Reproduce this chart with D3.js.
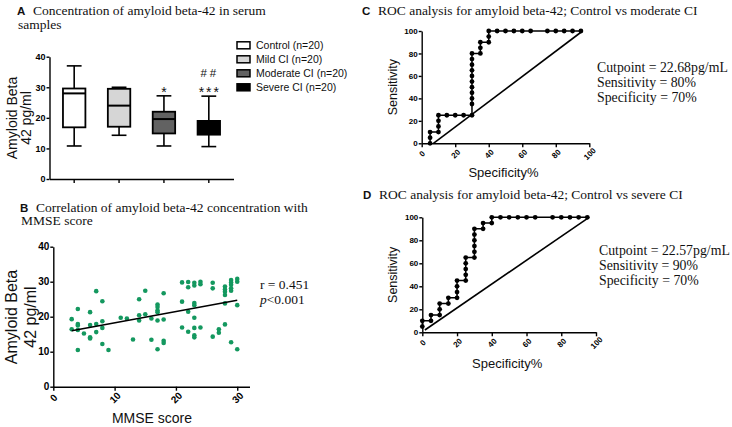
<!DOCTYPE html>
<html>
<head>
<meta charset="utf-8">
<script src="https://cdn.jsdelivr.net/npm/d3@7"></script>
<style>
body { margin: 0; background: #fff; }
svg { display: block; }
.ttl { font-family: "Liberation Serif", "Times New Roman", serif; font-size: 13.5px; fill: #111; }
.let { font-family: "Liberation Sans", Arial, sans-serif; font-size: 11.5px; font-weight: bold; fill: #111; }
.lab { font-family: "Liberation Sans", Arial, sans-serif; fill: #111; }
.stat { font-family: "Liberation Serif", "Times New Roman", serif; fill: #111; }
</style>
</head>
<body>
<div id="container"></div>
<script>
// panel A: box plots
const groups = ['Control (n=20)', 'Mild CI (n=20)', 'Moderate CI (n=20)', 'Severe CI (n=20)'];
const boxFill = ['#ffffff', '#d6d6d6', '#626262', '#000000'];
const whiskerLow = [10.8, 14.3, 10.8, 10.6];
const q1 = [16.9, 17.1, 14.9, 14.5];
const medians = [28.0, 24.0, 19.6, 17.0];
const q3 = [29.6, 29.5, 22.0, 19.0];
const whiskerHigh = [37.0, 30.0, 27.2, 27.1];
const sigLow = ['', '', '*', '***'];
const sigHigh = ['', '', '', '##'];

// panel B: MMSE vs amyloid beta-42
const mmse = [3, 3, 4, 4, 4, 4, 4, 5, 6, 6, 6, 6, 7, 7, 7, 8, 8, 8, 8, 9, 11, 12, 13, 14, 14, 14, 15, 15, 16, 16,
  17, 17, 17, 17, 17, 17, 18, 18, 18, 18, 21, 21, 21, 22, 22, 22, 22, 23, 23, 23, 23, 23, 23, 23, 23,
  24, 24, 24, 26, 26, 26, 27, 27, 28, 28, 28, 28, 28, 28, 29, 29, 29, 29, 29, 29, 30, 30, 30, 30];
const abeta = [19.3, 16.4, 22.2, 17.9, 17.5, 16.2, 10.5, 15.2, 21.3, 17.6, 14.1, 13.8, 27.3, 17.9, 15.6,
  24.4, 18.7, 16.8, 12.2, 10.5, 19.7, 19.5, 13.5, 25.0, 20.4, 18.9, 27.4, 20.7, 19.5, 13.4,
  23.5, 22.8, 21.8, 21.3, 18.9, 10.7, 26.7, 19.2, 13.1, 12.5, 29.8, 24.3, 16.9, 29.9, 28.4, 21.4, 15.7,
  29.7, 28.9, 23.9, 23.3, 19.7, 16.8, 14.7, 14.1, 30.0, 29.3, 16.9, 29.7, 28.1, 14.3, 16.4, 15.4,
  28.6, 27.8, 27.1, 26.2, 23.8, 17.8, 30.5, 29.8, 29.1, 28.1, 27.4, 12.7, 30.8, 30.0, 23.3, 10.7];
const fitX = [3, 30];
const fitY = [16.0, 24.7];

// panels C and D: ROC curves
const specC = [5, 5, 5, 10, 10, 10, 10, 15, 20, 25, 30, 30, 30, 30, 30, 30, 30, 30, 30, 30, 30,
  35, 35, 35, 40, 40, 40, 45, 50, 55, 60, 65, 75, 80, 85, 90, 95];
const sensC = [0, 5, 10, 10, 15, 20, 25, 25, 25, 25, 25, 35, 40, 45, 50, 55, 60, 65, 70, 75, 80,
  80, 85, 90, 90, 95, 100, 100, 100, 100, 100, 100, 100, 100, 100, 100, 100];
const refCx = [7, 96], refCy = [0, 100];

const specD = [0, 0, 5, 5, 10, 10, 10, 15, 15, 20, 20, 20, 20, 25, 25, 25, 25, 25, 30, 30, 30, 30, 30, 30,
  35, 35, 40, 40, 45, 50, 55, 60, 65, 75, 80, 85, 90, 95];
const sensD = [5, 10, 10, 15, 15, 20, 25, 25, 30, 30, 35, 40, 45, 45, 50, 55, 60, 65, 65, 70, 75, 80, 85, 90,
  90, 95, 95, 100, 100, 100, 100, 100, 100, 100, 100, 100, 100, 100];
const refDx = [1.5, 96], refDy = [2, 100];

const svg = d3.select('#container')
  .append('svg')
  .attr('width', 732)
  .attr('height', 427);

function styleAxis(g, size) {
  g.selectAll('path, line').attr('stroke', '#000').attr('stroke-width', 1.4);
  g.selectAll('text')
    .attr('fill', '#000')
    .style('font-family', '"Liberation Sans", Arial, sans-serif')
    .style('font-weight', 'bold')
    .style('font-size', size + 'px');
}

function title(x, y, letter, lines) {
  svg.append('text').attr('class', 'let').attr('x', x).attr('y', y).text(letter);
  lines.forEach(function (t, i) {
    svg.append('text').attr('class', 'ttl')
      .attr('x', i === 0 ? x + 16 : x + 1)
      .attr('y', y + i * 13.5)
      .text(t);
  });
}

function yLabel(lines, cy, size, baselines) {
  lines.forEach(function (t, i) {
    svg.append('text').attr('class', 'lab')
      .attr('transform', 'translate(' + baselines[i] + ',' + cy + ') rotate(-90)')
      .attr('text-anchor', 'middle')
      .style('font-size', size + 'px')
      .text(t);
  });
}

// ---------- Panel A ----------
title(17, 15, 'A', ['Concentration of amyloid beta-42 in serum', 'samples']);

const xA = d3.scaleBand().domain(groups).range([49.5, 233.5]).paddingInner(0.5).paddingOuter(0.3);
const yA = d3.scaleLinear().domain([0, 40]).range([179, 56.7]);

const axA = svg.append('g').attr('transform', 'translate(49.5,0)')
  .call(d3.axisLeft(yA).tickValues([0, 10, 20, 30, 40]).tickSize(3).tickSizeOuter(0).tickPadding(1));
styleAxis(axA, 9);
const axAx = svg.append('g').attr('transform', 'translate(0,179)')
  .call(d3.axisBottom(xA).tickSize(4).tickSizeOuter(0).tickFormat(''));
styleAxis(axAx, 9);

yLabel(['Amyloid Beta', '42 pg/ml'], 118, 14, [16.5, 30.5]);

const boxes = svg.append('g');
groups.forEach(function (gname, i) {
  const x0 = xA(gname), w = xA.bandwidth(), cx = x0 + w / 2;
  const g = boxes.append('g');
  g.append('line').attr('x1', cx).attr('x2', cx).attr('y1', yA(whiskerLow[i])).attr('y2', yA(q1[i]))
    .attr('stroke', '#000').attr('stroke-width', 1.6);
  g.append('line').attr('x1', cx).attr('x2', cx).attr('y1', yA(q3[i])).attr('y2', yA(whiskerHigh[i]))
    .attr('stroke', '#000').attr('stroke-width', 1.6);
  [whiskerLow[i], whiskerHigh[i]].forEach(function (v) {
    g.append('line').attr('x1', cx - w * 0.33).attr('x2', cx + w * 0.33).attr('y1', yA(v)).attr('y2', yA(v))
      .attr('stroke', '#000').attr('stroke-width', 1.6);
  });
  g.append('rect').attr('x', x0).attr('width', w)
    .attr('y', yA(q3[i])).attr('height', yA(q1[i]) - yA(q3[i]))
    .attr('fill', boxFill[i]).attr('stroke', '#000').attr('stroke-width', 1.8);
  g.append('line').attr('x1', x0).attr('x2', x0 + w).attr('y1', yA(medians[i])).attr('y2', yA(medians[i]))
    .attr('stroke', '#000').attr('stroke-width', 2);
  if (sigLow[i]) {
    svg.append('text').attr('class', 'lab').attr('x', cx + 1).attr('y', yA(whiskerHigh[i]) + 1)
      .attr('text-anchor', 'middle').style('font-size', '14px').style('letter-spacing', '2px')
      .text(sigLow[i]);
  }
  if (sigHigh[i]) {
    svg.append('text').attr('class', 'lab').attr('x', cx + 1).attr('y', yA(whiskerHigh[i]) - 19)
      .attr('text-anchor', 'middle').style('font-size', '11.5px').style('letter-spacing', '3px')
      .text(sigHigh[i]);
  }
});

const legend = svg.append('g').attr('id', 'legend');
const legendRow = d3.scaleLinear().domain([0, 3]).range([45.3, 87.3]);
groups.forEach(function (gname, i) {
  const row = legend.append('g').attr('transform', 'translate(0,' + legendRow(i) + ')');
  row.append('rect').attr('x', 237).attr('y', -3.5).attr('width', 13).attr('height', 7)
    .attr('fill', boxFill[i]).attr('stroke', '#000').attr('stroke-width', 1.5);
  row.append('text').attr('class', 'lab').attr('x', 256).attr('y', 3.8)
    .style('font-size', '10.5px').text(gname);
});

// ---------- Panel B ----------
title(20, 211.5, 'B', ['Correlation of amyloid beta-42 concentration with', 'MMSE score']);

const xB = d3.scaleLinear().domain([0, 32]).range([53.3, 249.5]);
const yB = d3.scaleLinear().domain([0, 40]).range([386.7, 246.7]);

const axB = svg.append('g').attr('transform', 'translate(53.3,0)')
  .call(d3.axisLeft(yB).tickValues([0, 10, 20, 30, 40]).tickSize(3).tickSizeOuter(0).tickPadding(1));
styleAxis(axB, 10);
const axBx = svg.append('g').attr('transform', 'translate(0,386.7)')
  .call(d3.axisBottom(xB).tickValues([0, 10, 20, 30]).tickSize(4).tickSizeOuter(0));
styleAxis(axBx, 10);
axBx.selectAll('text')
  .attr('y', 0).attr('dy', '0.35em')
  .attr('transform', 'translate(0,11) rotate(-45)')
  .attr('text-anchor', 'middle');

yLabel(['Amyloid Beta', '42 pg/ml'], 317, 16, [17, 36]);
svg.append('text').attr('class', 'lab').attr('x', 152).attr('y', 423)
  .attr('text-anchor', 'middle').style('font-size', '14px').text('MMSE score');

svg.append('g').selectAll('circle')
  .data(mmse)
  .enter()
  .append('circle')
  .attr('cx', function (d) { return xB(d); })
  .attr('cy', function (d, i) { return yB(abeta[i]); })
  .attr('r', 2.3)
  .attr('fill', '#14985f');

svg.append('line')
  .attr('x1', xB(fitX[0])).attr('y1', yB(fitY[0]))
  .attr('x2', xB(fitX[1])).attr('y2', yB(fitY[1]))
  .attr('stroke', '#000').attr('stroke-width', 1.6);

svg.append('text').attr('class', 'stat').attr('x', 260).attr('y', 289).style('font-size', '13.5px')
  .text('r = 0.451');
const pt = svg.append('text').attr('class', 'stat').attr('x', 260).attr('y', 304).style('font-size', '13.5px');
pt.append('tspan').style('font-style', 'italic').text('p');
pt.append('tspan').text('<0.001');

// ---------- ROC panels ----------
function rocPanel(spec, sens, refX, refY, xr, yr, stats, statX, statY, labY, sensX) {
  const x = d3.scaleLinear().domain([0, 100]).range(xr);
  const y = d3.scaleLinear().domain([0, 100]).range(yr);
  const ay = svg.append('g').attr('transform', 'translate(' + xr[0] + ',0)')
    .call(d3.axisLeft(y).tickValues([0, 20, 40, 60, 80, 100]).tickSize(3).tickSizeOuter(0).tickPadding(1));
  styleAxis(ay, 8);
  const ax = svg.append('g').attr('transform', 'translate(0,' + yr[0] + ')')
    .call(d3.axisBottom(x).tickValues([0, 20, 40, 60, 80, 100]).tickSize(4).tickSizeOuter(0));
  styleAxis(ax, 8);
  ax.selectAll('text')
    .attr('y', 0).attr('dy', '0.35em')
    .attr('transform', 'translate(0,10.5) rotate(-45)')
    .attr('text-anchor', 'middle');

  svg.append('line')
    .attr('x1', x(refX[0])).attr('y1', y(refY[0]))
    .attr('x2', x(refX[1])).attr('y2', y(refY[1]))
    .attr('stroke', '#000').attr('stroke-width', 1.6);

  const line = d3.line()
    .x(function (d) { return x(d); })
    .y(function (d, i) { return y(sens[i]); });
  svg.append('path').datum(spec).attr('d', line)
    .attr('fill', 'none').attr('stroke', '#000').attr('stroke-width', 1.5);
  svg.append('g').selectAll('circle')
    .data(spec)
    .enter()
    .append('circle')
    .attr('cx', function (d) { return x(d); })
    .attr('cy', function (d, i) { return y(sens[i]); })
    .attr('r', 2.4)
    .attr('fill', '#000');

  svg.append('text').attr('class', 'lab')
    .attr('transform', 'translate(' + sensX + ',' + (yr[0] + yr[1]) / 2 + ') rotate(-90)')
    .attr('text-anchor', 'middle').style('font-size', '12.5px').text('Sensitivity');
  svg.append('text').attr('class', 'lab')
    .attr('x', (xr[0] + xr[1]) / 2 - 2).attr('y', labY)
    .attr('text-anchor', 'middle').style('font-size', '13px').text('Specificity%');

  stats.forEach(function (t, i) {
    svg.append('text').attr('class', 'stat').attr('x', statX).attr('y', statY + i * 15.3)
      .style('font-size', '13.8px').text(t);
  });
}

title(362, 15, 'C', ['ROC analysis for amyloid beta-42; Control vs moderate CI']);
rocPanel(specC, sensC, refCx, refCy, [421.7, 589.3], [143.3, 31],
  ['Cutpoint = 22.68pg/mL', 'Sensitivity = 80%', 'Specificity = 70%'], 597, 71.5, 177, 397);

title(363, 198.5, 'D', ['ROC analysis for amyloid beta-42; Control vs severe CI']);
rocPanel(specD, sensD, refDx, refDy, [422.3, 596], [332.3, 217.3],
  ['Cutpoint = 22.57pg/mL', 'Sensitivity = 90%', 'Specificity = 70%'], 599, 254.5, 368, 397);
</script>
</body>
</html>
